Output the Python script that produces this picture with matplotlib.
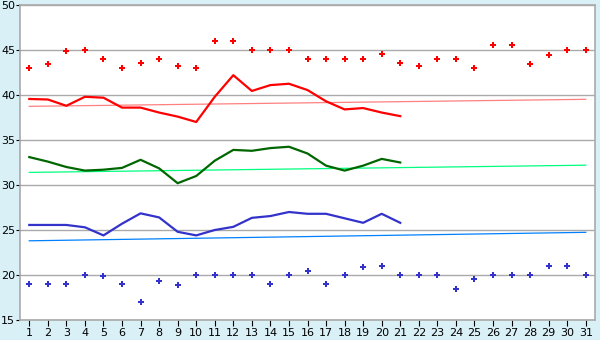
import numpy as np
import matplotlib.pyplot as plt

# days of the month
days = np.arange(1, 32)

# daily high / low points
high_pts = [43, 43.4, 44.85, 45, 44, 43, 43.6, 44, 43.2, 43,
            46, 46, 45, 45, 45, 44, 44, 44, 44, 44.6, 43.6,
            43.2, 44, 44, 43, 45.6, 45.6, 43.4, 44.4, 45, 45]
low_pts = [19, 19, 19, 20, 19.9, 19, 17, 19.3, 18.9, 20,
           20, 20, 20, 19, 20, 20.4, 19, 20, 20.9, 21, 20,
           20, 20, 18.5, 19.6, 20, 20, 20, 21, 21, 20]

# measured series (first 21 days)
days_meas = np.arange(1, 22)
red_line = [39.56, 39.5, 38.8, 39.8, 39.7, 38.6, 38.6, 38.05, 37.6, 37.0,
            39.8, 42.2, 40.45, 41.1, 41.25, 40.55, 39.3, 38.4, 38.55, 38.05, 37.65]
green_line = [33.1, 32.6, 32.0, 31.6, 31.7, 31.9, 32.8, 31.85, 30.2, 31.0,
              32.7, 33.9, 33.8, 34.1, 34.25, 33.5, 32.15, 31.6, 32.15, 32.9, 32.5]
blue_line = [25.56, 25.56, 25.56, 25.3, 24.4, 25.7, 26.85, 26.4, 24.8, 24.4,
             25.0, 25.35, 26.35, 26.55, 27.0, 26.8, 26.8, 26.3, 25.8, 26.8, 25.8]

# trend lines (value at day 1 and day 31)
trend_days = [1, 31]
red_trend = [38.74, 39.52]
green_trend = [31.4, 32.2]
blue_trend = [23.8, 24.74]

bg = "#d9f0f7"
grid_c = "#aaaaaa"

fig = plt.figure(figsize=(6, 3.4), dpi=100, facecolor=bg)
ax = fig.add_axes([20 / 600, 20 / 340, 575 / 600, 315 / 340])
ax.set_facecolor("white")

ax.plot(trend_days, red_trend, color="#ff8080", lw=0.9)
ax.plot(trend_days, green_trend, color="#00ff80", lw=0.9)
ax.plot(trend_days, blue_trend, color="#0080ff", lw=0.9)

ax.plot(days_meas, red_line, color="#ff0000", lw=1.6)
ax.plot(days_meas, green_line, color="#006600", lw=1.6)
ax.plot(days_meas, blue_line, color="#3333cc", lw=1.6)

ax.plot(days, high_pts, linestyle="none", marker="P", markersize=4.5,
        color="#ff0000", markeredgewidth=0)
ax.plot(days, low_pts, linestyle="none", marker="P", markersize=4.5,
        color="#3333cc", markeredgewidth=0)

ax.set_xlim(0.5, 31.5)
ax.set_ylim(15, 50)
ax.set_xticks(days)
ax.set_yticks(np.arange(15, 51, 5))
ax.yaxis.grid(True, color=grid_c, lw=1.0)
ax.set_axisbelow(True)
for s in ax.spines.values():
    s.set_color(grid_c)
    s.set_linewidth(1.2)
ax.tick_params(axis="x", labelsize=8, length=4, width=0.8, color="black", pad=2)
ax.tick_params(axis="y", labelsize=8, length=3, width=0.8, color="black", pad=0.5)

plt.savefig("out.png", dpi=100, facecolor=bg)
